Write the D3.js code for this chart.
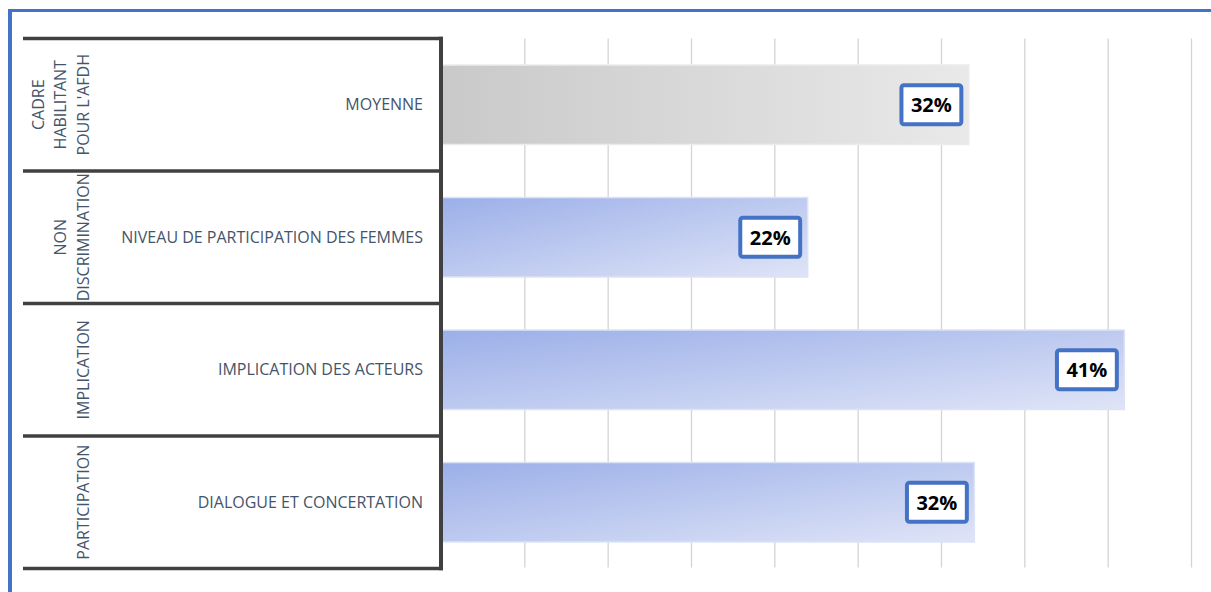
<!DOCTYPE html>
<html>
<head>
<meta charset="utf-8">
<script src="https://cdn.jsdelivr.net/npm/d3@7"></script>
<style>
  html, body { margin: 0; padding: 0; background: #fff; }
  svg { display: block; }
  text { font-family: "Open Sans", "Noto Sans", sans-serif; }
</style>
</head>
<body>
<svg id="chart" width="1211" height="592"></svg>
<script>
// Indicator names (one per row) and the dimension each belongs to
const categories = [
  "MOYENNE",
  "NIVEAU DE PARTICIPATION DES FEMMES",
  "IMPLICATION DES ACTEURS",
  "DIALOGUE ET CONCERTATION"
];
const groupLabels = [
  ["CADRE", "HABILITANT", "POUR L'AFDH"],
  ["NON", "DISCRIMINATION"],
  ["IMPLICATION"],
  ["PARTICIPATION"]
];
// Share for each indicator (the first row is the average of the others)
const values = [0.3167, 0.22, 0.41, 0.32];
// Gridline positions along the value axis
const tickValues = [0, 0.05, 0.10, 0.15, 0.20, 0.25, 0.30, 0.35, 0.40, 0.45];

const svg = d3.select("#chart");
const W = 1211, H = 592;

const tableLeft = 23, axisX = 441, plotRight = 1191;
const plotTop = 38.5, plotBottom = 568.5;

const x = d3.scaleLinear().domain([0, 0.45]).range([axisX, plotRight]);
const y = d3.scaleBand().domain(categories).range([plotTop, plotBottom])
  .paddingInner(0.4).paddingOuter(0.2);
const step = y.step();
const rowTop = i => plotTop + i * step;

// Gradients
const defs = svg.append("defs");
const gGray = defs.append("linearGradient").attr("id", "gradGray")
  .attr("x1", 0).attr("y1", 0).attr("x2", 1).attr("y2", 0);
gGray.append("stop").attr("offset", 0).attr("stop-color", "#c9c9c9");
gGray.append("stop").attr("offset", 1).attr("stop-color", "#e9e9e9");

const gBlue = defs.append("linearGradient").attr("id", "gradBlue")
  .attr("x1", 0).attr("y1", 0).attr("x2", 1).attr("y2", 1);
gBlue.append("stop").attr("offset", 0).attr("stop-color", "#9bafe8");
gBlue.append("stop").attr("offset", 1).attr("stop-color", "#dfe4f7");

// Outer frame (left and top edges)
svg.append("rect").attr("x", 8).attr("y", 9).attr("width", W - 8).attr("height", 3).attr("fill", "#4472c4");
svg.append("rect").attr("x", 8).attr("y", 9).attr("width", 4).attr("height", H - 9).attr("fill", "#4472c4");

// Vertical gridlines
const grid = svg.append("g").attr("transform", `translate(0,${plotTop})`)
  .call(d3.axisBottom(x).tickValues(tickValues.slice(1)).tickSize(plotBottom - plotTop - 1).tickFormat(""));
grid.select(".domain").remove();
grid.selectAll(".tick line").attr("stroke", "#d4d4d4").attr("stroke-width", 1.3);

// Bars
svg.append("g").selectAll("rect")
  .data(values)
  .join("rect")
  .attr("x", x(0))
  .attr("y", (d, i) => y(categories[i]))
  .attr("width", d => x(d) - x(0))
  .attr("height", y.bandwidth())
  .attr("fill", (d, i) => i === 0 ? "url(#gradGray)" : "url(#gradBlue)")
  .attr("stroke", (d, i) => i === 0 ? "#ececec" : "#dde3f6")
  .attr("stroke-width", 1.5);

// Table structure on the left
const table = svg.append("g").attr("stroke", "#404040").attr("stroke-width", 3.5).attr("fill", "none");
d3.range(categories.length + 1).forEach(i => {
  table.append("line")
    .attr("x1", tableLeft).attr("x2", axisX + 1.75)
    .attr("y1", rowTop(i)).attr("y2", rowTop(i));
});
table.append("line")
  .attr("x1", axisX).attr("x2", axisX)
  .attr("y1", plotTop - 1.75).attr("y2", plotBottom + 1.75)
  .attr("stroke-width", 4);

// Category labels
svg.append("g").selectAll("text")
  .data(categories)
  .join("text")
  .attr("x", 423)
  .attr("y", d => y(d) + y.bandwidth() / 2)
  .attr("dy", "0.35em")
  .attr("text-anchor", "end")
  .attr("font-size", 16)
  .attr("fill", "#44546a")
  .text(d => d);

// Rotated dimension labels
const lineGap = 22.5, lastBaseline = 88.5;
groupLabels.forEach((lines, i) => {
  const cy = rowTop(i) + step / 2;
  const t = svg.append("text")
    .attr("transform", `translate(0,${cy}) rotate(-90)`)
    .attr("text-anchor", "middle")
    .attr("font-size", 16)
    .attr("fill", "#44546a");
  lines.forEach((ln, j) => {
    t.append("tspan")
      .attr("x", 0)
      .attr("y", lastBaseline - (lines.length - 1 - j) * lineGap)
      .text(ln);
  });
});

// Value labels in framed boxes at the bar ends
const fmt = d3.format(".0%");
const labels = svg.append("g");
values.forEach((v, i) => {
  const cy = y(categories[i]) + y.bandwidth() / 2;
  const g = labels.append("g");
  const txt = g.append("text")
    .attr("font-size", 20)
    .attr("font-weight", 700)
    .attr("fill", "#000")
    .attr("text-anchor", "middle")
    .text(fmt(v));
  const tw = txt.node().getComputedTextLength();
  const bw = tw + 19, bh = 39;
  const right = x(v) - 7.5;
  const cx = right - bw / 2;
  g.insert("rect", "text")
    .attr("x", cx - bw / 2).attr("y", cy - bh / 2)
    .attr("width", bw).attr("height", bh)
    .attr("rx", 2.5)
    .attr("fill", "#fff")
    .attr("stroke", "#4472c4")
    .attr("stroke-width", 4);
  txt.attr("x", cx).attr("y", cy + 7.3);
});
</script>
</body>
</html>
